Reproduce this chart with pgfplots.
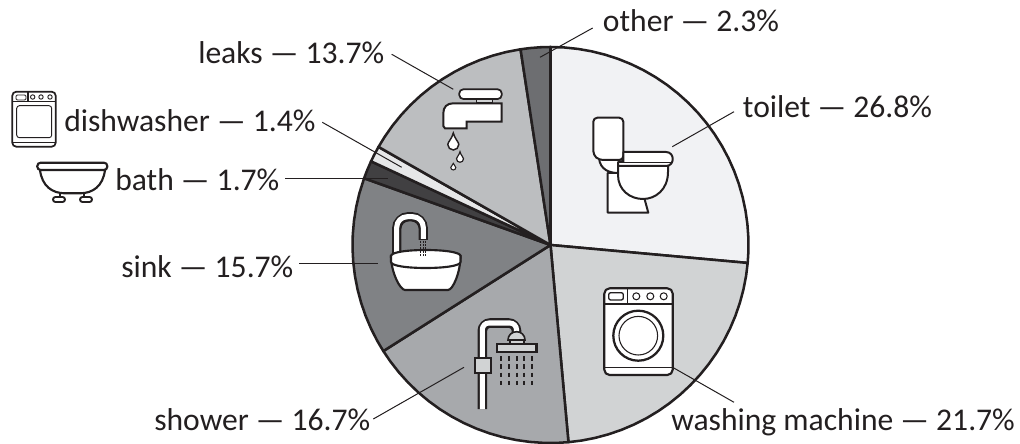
\documentclass[border=0pt]{standalone}
\usepackage{pgfplots}
\pgfplotsset{compat=1.18}
\usepackage{fontspec}
\setmainfont{Carlito}
\definecolor{ink}{HTML}{231F20}
\definecolor{cToilet}{HTML}{F1F2F4}
\definecolor{cWash}{HTML}{D1D3D4}
\definecolor{cShower}{HTML}{A7A9AC}
\definecolor{cSink}{HTML}{808285}
\definecolor{cBath}{HTML}{414042}
\definecolor{cDish}{HTML}{E6E7E8}
\definecolor{cLeaks}{HTML}{BCBEC0}
\definecolor{cOther}{HTML}{6D6E71}
\newcommand{\drop}[4]{% x, top, centre y, radius
  (#1,#2) .. controls ({#1+0.25*#4},{#2+0.5*(#3-#2)}) and ({#1+#4},{#3-0.45*#4}) .. ({#1+#4},#3)
  .. controls ({#1+#4},{#3+0.55*#4}) and ({#1+0.55*#4},{#3+#4}) .. (#1,{#3+#4})
  .. controls ({#1-0.55*#4},{#3+#4}) and ({#1-#4},{#3+0.55*#4}) .. ({#1-#4},#3)
  .. controls ({#1-#4},{#3-0.45*#4}) and ({#1-0.25*#4},{#2+0.5*(#3-#2)}) .. cycle}
\begin{document}
\begin{tikzpicture}
\useasboundingbox (0,0) rectangle (765pt,332.25pt);
\begin{axis}[at={(0,0)},anchor=south west,scale only axis,width=765pt,height=332.25pt,hide axis,clip=false,
  xmin=-550.5,xmax=469.5,ymin=-198,ymax=245,
  wedge/.style={data cs=polar,draw=ink,line width=1.9pt,line join=round,mark=none}]
% toilet 26.8%
\addplot[wedge,fill=cToilet] coordinates {(0,0)(90,198)(86,198)(82,198)(78,198)(74,198)(70,198)(66,198)(62,198)(58,198)(54,198)(50,198)(46,198)(42,198)(38,198)(34,198)(30,198)(26,198)(22,198)(18,198)(14,198)(10,198)(6,198)(2,198)(-2,198)(-5.2,198)} --cycle;
% washing machine 21.7%
\addplot[wedge,fill=cWash] coordinates {(0,0)(-5.2,198)(-9,198)(-13,198)(-17,198)(-21,198)(-25,198)(-29,198)(-33,198)(-37,198)(-41,198)(-45,198)(-49,198)(-53,198)(-57,198)(-61,198)(-65,198)(-69,198)(-73,198)(-77,198)(-81,198)(-84.8,198)} --cycle;
% shower 16.7%
\addplot[wedge,fill=cShower] coordinates {(0,0)(-84.8,198)(-88,198)(-92,198)(-96,198)(-100,198)(-104,198)(-108,198)(-112,198)(-116,198)(-120,198)(-124,198)(-128,198)(-132,198)(-136,198)(-140,198)(-144,198)(-147.6,198)} --cycle;
% sink 15.7%
\addplot[wedge,fill=cSink] coordinates {(0,0)(-147.6,198)(-151,198)(-155,198)(-159,198)(-163,198)(-167,198)(-171,198)(-175,198)(-179,198)(-183,198)(-187,198)(-191,198)(-195,198)(-199.7,198)} --cycle;
% bath 1.7%
\addplot[wedge,fill=cBath] coordinates {(0,0)(-199.7,198)(-202,198)(-205,198)} --cycle;
% dishwasher 1.4%
\addplot[wedge,fill=cDish] coordinates {(0,0)(-205,198)(-207,198)(-209.7,198)} --cycle;
% leaks 13.7%
\addplot[wedge,fill=cLeaks] coordinates {(0,0)(-209.7,198)(-213,198)(-217,198)(-221,198)(-225,198)(-229,198)(-233,198)(-237,198)(-241,198)(-245,198)(-249,198)(-253,198)(-257,198)(-261.3,198)} --cycle;
% other 2.3%
\addplot[wedge,fill=cOther] coordinates {(0,0)(-261.3,198)(-264,198)(-267,198)(-270,198)} --cycle;
\end{axis}
\begin{scope}[shift={(0,332.25pt)},x=0.75pt,y=-0.75pt,ink]
% leaders
\draw[line width=0.75pt] (391.7,54.3)--(453.3,89.3);
\draw[line width=0.75pt] (322.3,122.3)--(401.7,167.3);
\draw[line width=0.75pt] (285,179)--(388.3,179);
\draw[line width=0.75pt] (299,263.3)--(378.3,263.3);
\draw[line width=0.75pt] (373.3,419)--(464,367.3);
\draw[line width=0.75pt] (673.3,367.7)--(734,402.3);
\draw[line width=0.75pt] (734,111.7)--(672.3,146.7);
\draw[line width=0.75pt] (592.7,28)--(540,57.3);
% labels
\tikzset{lab/.style={anchor=base west,inner sep=0pt,font=\fontsize{23.7pt}{27pt}\selectfont,text=ink}}
\node[lab] at (198,63.3) {leaks — 13.7\%};
\node[lab] at (64,131.7) {dishwasher — 1.4\%};
\node[lab] at (115,190.7) {bath — 1.7\%};
\node[lab] at (121,277) {sink — 15.7\%};
\node[lab] at (154,430) {shower — 16.7\%};
\node[lab] at (671,430) {washing machine — 21.7\%};
\node[lab] at (742.7,118) {toilet — 26.8\%};
\node[lab] at (602.7,31.7) {other — 2.3\%};
% toilet icon
\begin{scope}[line width=1.5pt,fill=white,line join=round]
\filldraw (607.7,173)--(607.7,212.7)--(648.3,212.7)--(644,197)--(620,173)--cycle;
\filldraw (599,158) .. controls (600,170) and (610,173) .. (618,173)--(625,160)--cycle;
\filldraw[rounded corners=3pt] (593.3,117.7)--(623.3,117.7)--(623.3,160)--(599,160)--(593.3,155)--cycle;
\filldraw (618,163)--(668,163)--(668,172) .. controls (668,190) and (655,199) .. (643,199) .. controls (630,199) and (618,190) .. (618,175)--cycle;
\filldraw (623.3,152)--(666,152) .. controls (675,152) and (675,166) .. (666,166)--(618,166)--(618,162)--(623.3,162)--cycle;
\draw[line width=0.8pt] (619,162.5)--(671,162.5);
\end{scope}
% washing machine icon
\begin{scope}[line join=round]
\filldraw[fill=white,line width=1.6pt,rounded corners=4pt] (604.3,288.3) rectangle (672.7,375);
\draw[line width=1.1pt] (604.3,304)--(672.7,304) (627.3,288.3)--(627.3,304) (604.3,367.7)--(672.7,367.7);
\draw[line width=1.0pt,rounded corners=1.5pt] (608.7,292.7) rectangle (623.3,300);
\draw[line width=0.8pt] (636.3,296.3) circle[radius=3.5] (650.3,296.3) circle[radius=3.5] (663.7,296.3) circle[radius=3.5];
\draw[line width=1.7pt] (638.3,335.7) circle[radius=25];
\draw[line width=0.8pt] (638.3,335.7) circle[radius=19.3];
\end{scope}
% shower icon
\draw[line width=7.2pt,ink,rounded corners=6pt] (482.3,409)--(482.3,323)--(516.5,323)--(516.5,334);
\draw[line width=3.8pt,white,rounded corners=5pt] (482.3,409)--(482.3,323)--(516.5,323)--(516.5,333);
\filldraw[fill=cWash,line width=1.4pt] (474.7,358.3) rectangle (490.7,372.7);
\filldraw[fill=cWash,line width=1.2pt] (508,340) .. controls (508,335) and (512,331.7) .. (516.7,331.7) .. controls (521,331.7) and (525,335) .. (525,340)--cycle;
\filldraw[fill=cWash,line width=1.2pt] (510,340) rectangle (524,344);
\filldraw[fill=cWash,line width=1.6pt] (497,344) rectangle (536.5,352);
\draw[line width=1.2pt,dash pattern=on 3.6pt off 2.6pt] (501,356)--(501,385) (509,356)--(509,385) (516.7,356)--(516.7,385) (524,356)--(524,385) (532,356)--(532,385);
% sink icon
\draw[line width=7pt,ink,rounded corners=9pt] (396.7,254)--(396.7,216.7)--(423.3,216.7)--(423.3,240);
\draw[line width=3.8pt,white,rounded corners=8pt] (396.7,255)--(396.7,216.7)--(423.3,216.7)--(423.3,239);
\filldraw[fill=white,line width=1.6pt] (391,256) .. controls (391,272) and (400,290) .. (405,290)--(448,290) .. controls (453,290) and (460.5,272) .. (460.5,256)--cycle;
\filldraw[fill=white,line width=1.6pt] (391,256) .. controls (391,248) and (460.5,248) .. (460.5,256)--(460.5,262) .. controls (460.5,270) and (391,270) .. (391,262)--cycle;
\draw[line width=0.7pt,dash pattern=on 1.5pt off 1pt] (420.3,240.7)--(420.3,256.7) (423,240.7)--(423,256.7) (425.7,240.7)--(425.7,256.7);
% tap icon
\filldraw[fill=white,line width=1.3pt,rounded corners=3pt] (459.3,89.3) rectangle (501.7,99);
\filldraw[fill=cWash,line width=0.6pt] (476,99) rectangle (492.7,102.7);
\filldraw[fill=white,line width=1.5pt] (501.7,103.3)--(453.3,103.3) .. controls (447,103.3) and (443.3,107) .. (443.3,113.3)--(443.3,126)--(445,128.3)--(466.7,128.3)--(466.7,121.7)--(501.7,121.7)--cycle;
\filldraw[fill=white,line width=1.1pt] \drop{453.3}{133}{144.5}{5.5};
\filldraw[fill=white,line width=0.9pt] \drop{460}{151.7}{158.8}{3.5};
\filldraw[fill=white,line width=0.8pt] \drop{453.3}{163.3}{167.5}{2.5};
% dishwasher icon
\draw[line width=1.3pt,rounded corners=3pt] (12.3,91.7) rectangle (55.7,146.7);
\draw[line width=0.8pt] (12.3,101.7)--(55.7,101.7) (12.3,142.7)--(55.7,142.7) (28,91.7)--(28,101.7);
\draw[line width=0.7pt,rounded corners=1pt] (16,95) rectangle (26,100);
\draw[line width=0.7pt] (32.7,97) circle[radius=2.2] (41,97) circle[radius=2.2] (50,97) circle[radius=2.2];
\draw[line width=0.7pt,rounded corners=2pt] (16.7,105.7) rectangle (51.7,137.7);
% bath icon
\draw[line width=1.6pt,rounded corners=2.5pt] (37.3,162.7) rectangle (107.3,170);
\draw[line width=1.6pt] (40,170) .. controls (42,186) and (52,193.3) .. (65,193.3)--(80,193.3) .. controls (93,193.3) and (103,186) .. (105,170);
\draw[line width=1.4pt] (60,193.5)--(60,197) (84,193.5)--(84,197);
\filldraw[fill=white,line width=1.4pt,rounded corners=1.8pt] (53,197) rectangle (65,202);
\filldraw[fill=white,line width=1.4pt,rounded corners=1.8pt] (80,197) rectangle (92,202);
\end{scope}
\end{tikzpicture}
\end{document}
